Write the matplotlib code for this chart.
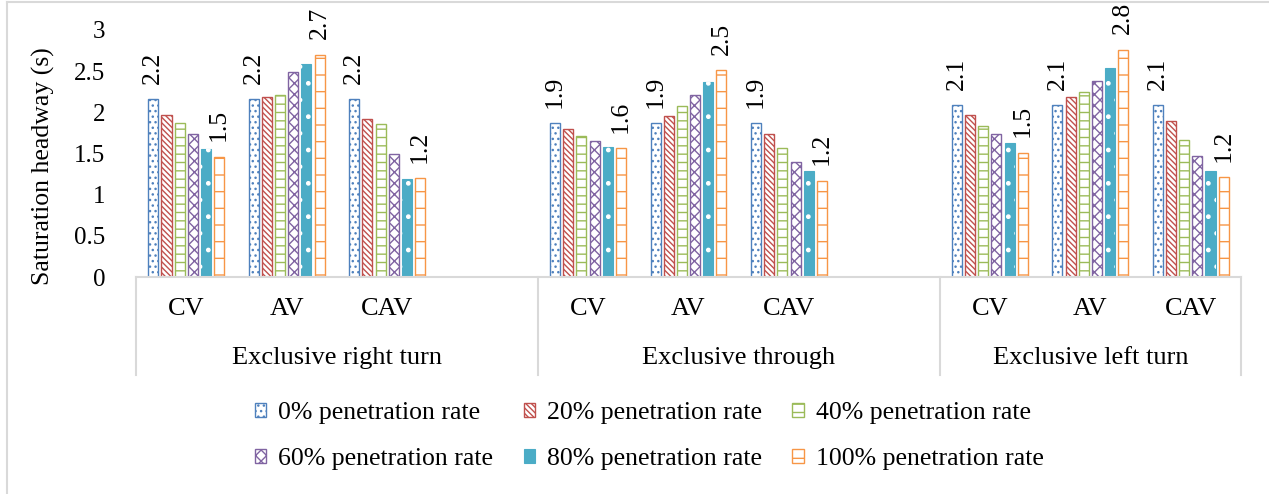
import matplotlib
matplotlib.use("Agg")
import matplotlib.pyplot as plt
from matplotlib.lines import Line2D

plt.rcParams["font.family"] = ["Liberation Serif", "DejaVu Serif"]
plt.rcParams["hatch.linewidth"] = 1.0

groups = ["Exclusive right turn", "Exclusive through", "Exclusive left turn"]
vehicles = ["CV", "AV", "CAV"]
series = ["0% penetration rate", "20% penetration rate", "40% penetration rate",
          "60% penetration rate", "80% penetration rate", "100% penetration rate"]

# headway (s) per penetration rate, ordered right/CV, right/AV, right/CAV, through/..., left/...
rate_0 = [2.16, 2.16, 2.16, 1.87, 1.87, 1.87, 2.09, 2.09, 2.09]
rate_20 = [1.97, 2.18, 1.92, 1.80, 1.95, 1.73, 1.97, 2.18, 1.89]
rate_40 = [1.87, 2.21, 1.86, 1.71, 2.08, 1.56, 1.83, 2.25, 1.66]
rate_60 = [1.73, 2.49, 1.49, 1.65, 2.21, 1.40, 1.74, 2.38, 1.47]
rate_80 = [1.55, 2.59, 1.19, 1.58, 2.37, 1.29, 1.63, 2.54, 1.29]
rate_100 = [1.46, 2.70, 1.20, 1.56, 2.51, 1.17, 1.51, 2.76, 1.21]
values = [rate_0, rate_20, rate_40, rate_60, rate_80, rate_100]

colors = ["#4F81BD", "#C0504D", "#9BBB59", "#8064A2", "#4BACC6", "#F79646"]
hatches = ["...", "\\\\\\\\\\\\", "--", "xxx", None, "-"]
labelled = [0, 5]

W, H = 1269, 494
fig = plt.figure(figsize=(W / 100, H / 100), dpi=100)
ax = fig.add_axes([136 / W, 1 - 277 / H, 1105 / W, 247.2 / H])

# category positions: 3 slots per group plus an empty slot between groups
xpos = [4 * g + v for g in range(len(groups)) for v in range(len(vehicles))]
pitch = 0.131
width = 0.10

handles = []
for i, vals in enumerate(values):
    xs = [x + (i - 2.5) * pitch for x in xpos]
    if i == 4:
        b = ax.bar(xs, vals, width, color=colors[i], edgecolor=colors[i], lw=0.8,
                   label=series[i])
        ax.bar(xs, vals, width, facecolor="none", edgecolor="white", hatch=".", lw=0)
    else:
        b = ax.bar(xs, vals, width, facecolor="white", edgecolor=colors[i],
                   hatch=hatches[i], lw=1.0, label=series[i])
    handles.append(b)
    if i in labelled:
        for x, v in zip(xs, vals):
            ax.annotate(f"{v:.1f}", (x, v), xytext=(0, 11), textcoords="offset points",
                        rotation=90, ha="center", va="bottom", fontsize=18.5,
                        annotation_clip=False)

ax.set_xlim(-0.5, 10.5)
ax.set_ylim(0, 3)
ax.set_yticks([0, 0.5, 1, 1.5, 2, 2.5, 3], ["0", "0.5", "1", "1.5", "2", "2.5", "3"])
ax.tick_params(axis="y", length=0, pad=22, labelsize=18)
ax.set_xticks([])
for s in ["top", "right", "left"]:
    ax.spines[s].set_visible(False)
ax.spines["bottom"].set_color("#D9D9D9")
ax.spines["bottom"].set_linewidth(1.5)

ax.set_ylabel("Saturation headway (s)", fontsize=18.5)
ax.yaxis.set_label_coords(-0.073, 0.45)

# multi-level category axis
tr = ax.get_xaxis_transform()
for xb in [-0.5, 3.5, 7.5, 10.5]:
    ax.plot([xb, xb], [0, -0.397], transform=tr, color="#D9D9D9", lw=1.5, clip_on=False)
for x, name in zip(xpos, vehicles * 3):
    ax.text(x, -0.13, name, transform=tr, ha="center", va="center", fontsize=19)
for g, name in enumerate(groups):
    gx = 4 * g + 1.5 if g < 2 else 9
    ax.text(gx, -0.328, name, transform=tr, ha="center", va="center", fontsize=19)

# legend, filled row by row
order = [0, 3, 1, 4, 2, 5]
fig.legend([handles[k] for k in order], [series[k] for k in order], ncol=3,
           loc="center", bbox_to_anchor=(649 / W, 1 - 436 / H), frameon=False,
           fontsize=18.5, handlelength=0.45, handleheight=0.45, handletextpad=0.45,
           columnspacing=1.2, labelspacing=0.95, borderpad=0)

# chart border
fig.add_artist(Line2D([7 / W, 7 / W], [0, 1 - 2 / H], transform=fig.transFigure,
                      color="#D9D9D9", lw=1.5))
fig.add_artist(Line2D([7 / W, 1], [1 - 2 / H, 1 - 2 / H], transform=fig.transFigure,
                      color="#D9D9D9", lw=1.5))

fig.savefig("out.png", dpi=100)
